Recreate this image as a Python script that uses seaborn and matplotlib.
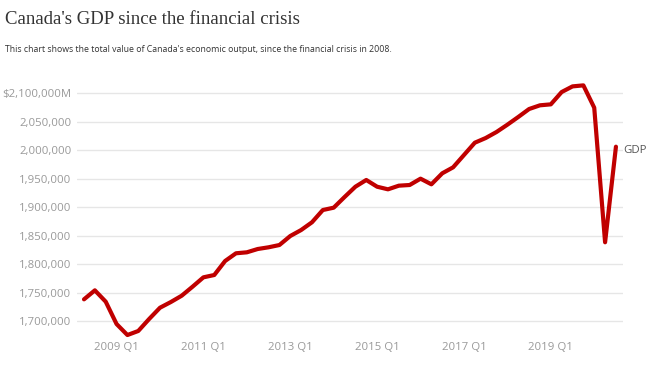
import matplotlib
matplotlib.use("Agg")
import matplotlib.pyplot as plt
import seaborn as sns
import pandas as pd

quarters = [f"{y} Q{q}" for y in range(2008, 2021) for q in range(1, 5)][1:51]
gdp = [1738000, 1753800, 1733900, 1694700, 1675400, 1682500, 1703500, 1723300,
       1733300, 1744400, 1760200, 1776600, 1780700, 1805300, 1818800, 1820500,
       1826300, 1829300, 1833300, 1849100, 1859600, 1873200, 1894700, 1898800,
       1917500, 1935600, 1947400, 1935600, 1931000, 1937400, 1938600, 1949700,
       1939800, 1959100, 1969600, 1991200, 2012800, 2021000, 2031600, 2044400,
       2057900, 2071900, 2078400, 2080100, 2101700, 2111600, 2113400, 2074200,
       1838100, 2005800]
tick_labels = ["2009 Q1", "2011 Q1", "2013 Q1", "2015 Q1", "2017 Q1", "2019 Q1"]
ytick_vals = [1700000, 1750000, 1800000, 1850000, 1900000, 1950000, 2000000, 2050000, 2100000]
series_name = "GDP"

df = pd.DataFrame({"idx": range(len(quarters)), "quarter": quarters, "gdp": gdp})

sns.set_style("white")
plt.rcParams['font.family'] = ['Open Sans', 'DejaVu Sans']

fig = plt.figure(figsize=(6.53, 3.67), dpi=100)
W, H = 653, 367
ax = fig.add_axes([77 / W, (H - 338) / H, (623 - 77) / W, 258 / H])

sns.lineplot(data=df, x="idx", y="gdp", ax=ax, color="#c00000", linewidth=3.0,
             solid_joinstyle="round", solid_capstyle="round", legend=False)

ax.set_xlim(-0.645, 49.65)
ax.set_ylim(1670176, 2122807)
ax.set_yticks(ytick_vals)
ylabels = [f"{v:,}" for v in ytick_vals]
ylabels[-1] = "$" + ylabels[-1] + "M"
ax.set_yticklabels(ylabels)
ax.set_xticks([quarters.index(t) for t in tick_labels])
ax.set_xticklabels(tick_labels)
ax.tick_params(axis="both", length=0, labelsize=8.2, labelcolor="#999999")
ax.tick_params(axis="y", pad=4)
ax.tick_params(axis="x", pad=3)
ax.grid(axis="y", color="#e6e6e6", linewidth=1)
ax.set_axisbelow(True)
for s in ax.spines.values():
    s.set_visible(False)
ax.set_xlabel("")
ax.set_ylabel("")

ax.annotate(series_name, xy=(len(gdp) - 1, gdp[-1]), xytext=(5, -3),
            textcoords="offset points", va="center", ha="left",
            fontsize=8.2, color="#555555")

fig.text(5 / W, 1 - 20 / H, "Canada's GDP since the financial crisis",
         fontsize=13.5, color="#333333", va="center", ha="left",
         family=["Liberation Serif"])
fig.text(5 / W, 1 - 50 / H,
         "This chart shows the total value of Canada's economic output, since the financial crisis in 2008.",
         fontsize=6.3, color="#333333", va="center", ha="left")

fig.savefig("out.png", dpi=100)
